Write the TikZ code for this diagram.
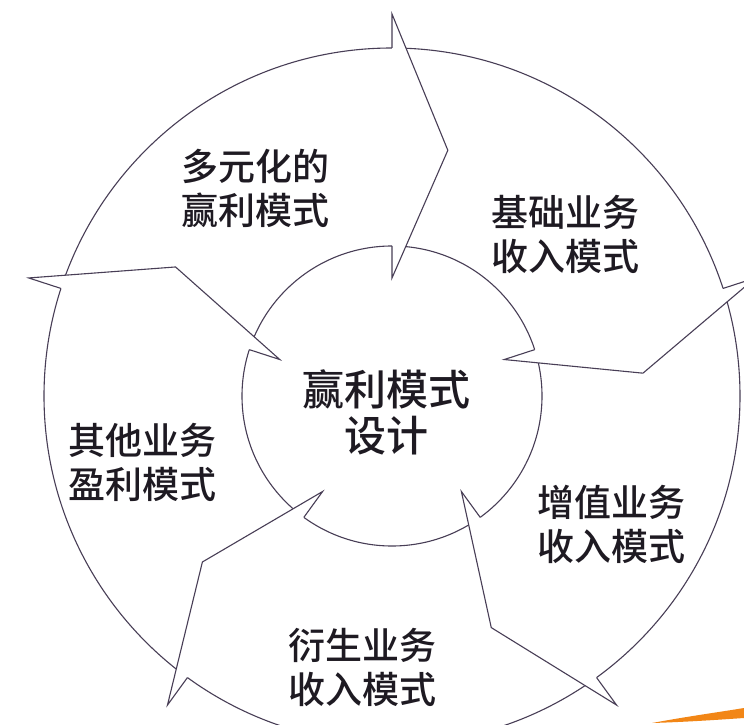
\documentclass[tikz,border=0pt]{standalone}
\usepackage{fontspec}
\newfontfamily\cjk{Noto Sans CJK SC Medium}
\definecolor{ringline}{RGB}{72,62,86}
\definecolor{labeltext}{RGB}{30,26,34}
\definecolor{swoosh}{RGB}{242,134,22}
\begin{document}
\begin{tikzpicture}[x=1pt,y=1pt,
  modelabel/.style={font=\cjk\fontsize{37}{44}\selectfont,align=center,inner sep=0pt,text=labeltext}]
\useasboundingbox (0,0) rectangle (744,724);
\fill[white] (0,0) rectangle (744,724);
\begin{scope}[shift={(392,328)},line width=1.1pt,draw=ringline]
\draw (0,0) circle [radius=348];
\draw (0,0) circle [radius=150];
\foreach \a in {90,18,-54,-126,162}
  \filldraw[fill=white] (\a:348) -- (\a:382) -- (\a-12.8:252) -- (\a:118) -- (\a:150);
\end{scope}
\node[modelabel] (diverse) at (255,536) {多元化的\\赢利模式};
\node[modelabel] (basic) at (565,490) {基础业务\\收入模式};
\node[modelabel,font=\cjk\fontsize{42}{46}\selectfont] (core) at (386,312) {赢利模式\\设计};
\node[modelabel] (other) at (142,262) {其他业务\\盈利模式};
\node[modelabel] (added) at (611,200) {增值业务\\收入模式};
\node[modelabel] (derived) at (362,57) {衍生业务\\收入模式};
\fill[swoosh] (652,1) .. controls (690,8) and (720,12) .. (744,16) -- (744,6) .. controls (715,4) and (685,2) .. (652,1) -- cycle;
\end{tikzpicture}
\end{document}
